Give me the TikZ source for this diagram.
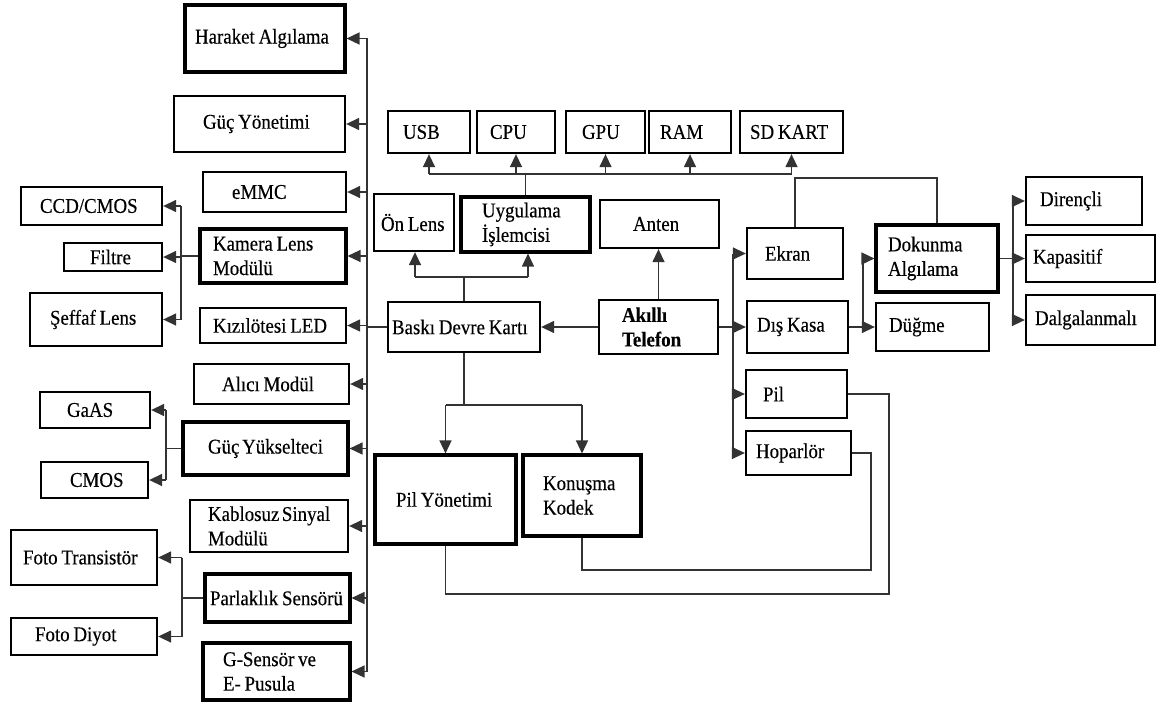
\documentclass[tikz,border=0pt]{standalone}
\usepackage{fontspec}
\setmainfont{Liberation Serif}[FakeStretch=0.9,WordSpace=0.8,FakeBold=0.3]
\usetikzlibrary{arrows.meta}
\newcommand{\lblfont}{\fontsize{21}{24.5}\selectfont\hyphenpenalty=10000\exhyphenpenalty=10000}
\begin{document}
\begin{tikzpicture}[x=1pt,y=-1pt,
  box/.style={draw=black,line width=2.3pt,inner sep=0pt,fill=white,font=\lblfont,align=flush left},
  heavy/.style={line width=3.1pt},
  wh/.style 2 args={minimum width=#1pt,minimum height=#2pt},
  tw/.style={text width=#1pt},
  ln/.style={draw=black!80,line width=1.4pt},
  arr/.style={ln,-{Triangle[length=13pt,width=12pt]}},
]
\useasboundingbox (0,0) rectangle (1161,709);

% ---- left column: modules on the board bus ----
\node[box,heavy,wh={160}{67},tw=140] (hareket) at (265,38.5) {Haraket~Algılama};
\node[box,wh={171}{56},tw=113] (gucyon) at (259.5,124) {Güç~Yönetimi};
\node[box,wh={143}{40},tw=85] (emmc) at (274.5,192) {eMMC};
\node[box,heavy,wh={146}{54},tw=120] (kamera) at (273,256) {Kamera~Lens\\Modülü};
\node[box,wh={146}{35},tw=120] (kizil) at (273,325.5) {Kızılötesi~LED};
\node[box,wh={155}{40},tw=99] (alici) at (271.5,384) {Alıcı~Modül};
\node[box,heavy,wh={165}{53},tw=115] (gucyuk) at (265.5,448.5) {Güç~Yükselteci};
\node[box,wh={158}{52},tw=122] (kablosuz) at (269,526) {Kablosuz~Sinyal\\Modülü};
\node[box,heavy,wh={145}{48},tw=135] (parlak) at (277.5,598) {Parlaklık~Sensörü};
\node[box,heavy,wh={147}{57},tw=107] (gsensor) at (276.5,671.5) {G-Sensör~ve\\E-~Pusula};

% ---- far left: sub-components ----
\node[box,wh={141}{38},tw=103] (ccd) at (91.5,206) {CCD/CMOS};
\node[box,wh={98}{28},tw=46] (filtre) at (113,257) {Filtre};
\node[box,wh={132}{53},tw=92] (seffaf) at (96,319.5) {Şeffaf~Lens};
\node[box,wh={110}{36},tw=56] (gaas) at (95,410) {GaAS};
\node[box,wh={107}{36},tw=49] (cmos) at (94.5,480) {CMOS};
\node[box,wh={146}{55},tw=122] (fototr) at (84,557.5) {Foto~Transistör};
\node[box,wh={146}{37},tw=98] (fotodi) at (84,636.5) {Foto~Diyot};

% ---- top row ----
\node[box,wh={82}{42},tw=52] (usb) at (429,132) {USB};
\node[box,wh={78}{42},tw=52] (cpu) at (516,132) {CPU};
\node[box,wh={79}{42},tw=47] (gpu) at (605.5,132) {GPU};
\node[box,wh={82}{42},tw=60] (ram) at (690,132) {RAM};
\node[box,wh={103}{42},tw=83] (sd) at (791.5,132) {SD~KART};

% ---- centre ----
\node[box,wh={80}{57},tw=66] (onlens) at (414,222.5) {Ön~Lens};
\node[box,heavy,wh={129}{55},tw=87] (uyg) at (525.5,224.5) {Uygulama\\İşlemcisi};
\node[box,wh={119}{48},tw=53] (anten) at (659.5,224) {Anten};
\node[box,wh={152}{50},tw=144] (baski) at (464,327) {Baskı~Devre~Kartı};
\node[box,wh={119}{54},tw=73,font=\lblfont\bfseries] (akilli) at (658.5,327) {Akıllı\\Telefon};

% ---- right side ----
\node[box,wh={96}{51},tw=60] (ekran) at (795,253.5) {Ekran};
\node[box,wh={101}{52},tw=81] (diskasa) at (797.5,327) {Dış~Kasa};
\node[box,wh={101}{48},tw=67] (pil) at (796.5,394) {Pil};
\node[box,wh={105}{44},tw=85] (hopar) at (798.5,453) {Hoparlör};
\node[box,heavy,wh={122}{67},tw=98] (dokunma) at (937,258.5) {Dokunma\\Algılama};
\node[box,wh={113}{48},tw=87] (dugme) at (932.5,327) {Düğme};
\node[box,wh={116}{48},tw=88] (direncli) at (1084,201) {Dirençli};
\node[box,wh={129}{47},tw=115] (kapas) at (1090.5,258.5) {Kapasitif};
\node[box,wh={129}{50},tw=111] (dalga) at (1090.5,320) {Dalgalanmalı};

% ---- bottom ----
\node[box,heavy,wh={141}{89},tw=99] (pilyon) at (445.5,499.5) {Pil~Yönetimi};
\node[box,heavy,wh={118}{81},tw=78] (konusma) at (582,495.5) {Konuşma\\Kodek};

% ---- bus lines ----
\coordinate (bus) at (367,0);
\coordinate (kv) at (181,0);
\coordinate (gv) at (166,0);
\coordinate (pv) at (182,0);
\coordinate (tb) at (0,174);
\coordinate (lb) at (0,277);
\coordinate (rv) at (733,0);
\coordinate (eh) at (0,178);
\coordinate (dv) at (863,0);
\coordinate (tv) at (1013,0);
\coordinate (bb) at (0,405);
\coordinate (p1) at (889,594);
\coordinate (h1) at (871,570);

% board to left modules
\draw[ln] (hareket.east -| bus) -- (gsensor.east -| bus);
\draw[ln] (baski.west) -- (baski.west -| bus);
\foreach \n in {hareket,gucyon,emmc,kamera,kizil,alici,gucyuk,kablosuz,parlak,gsensor}
  \draw[arr] (\n.east -| bus) -- (\n.east);

% camera lens parts
\draw[ln] (kamera.west) -- (kamera.west -| kv);
\draw[ln] (ccd.east -| kv) -- (seffaf.east -| kv);
\foreach \n in {ccd,filtre,seffaf}
  \draw[arr] (\n.east -| kv) -- (\n.east);

% power amplifier parts
\draw[ln] (gucyuk.west) -- (gucyuk.west -| gv);
\draw[ln] (gaas.east -| gv) -- (cmos.east -| gv);
\foreach \n in {gaas,cmos}
  \draw[arr] (\n.east -| gv) -- (\n.east);

% brightness sensor parts
\draw[ln] (parlak.west) -- (parlak.west -| pv);
\draw[ln] (fototr.east -| pv) -- (fotodi.east -| pv);
\foreach \n in {fototr,fotodi}
  \draw[arr] (\n.east -| pv) -- (\n.east);

% application processor to top row
\draw[ln] (usb.south |- tb) -- (sd.south |- tb);
\draw[ln] (uyg.north) -- (uyg.north |- tb);
\foreach \n in {usb,cpu,gpu,ram,sd}
  \draw[arr] (\n.south |- tb) -- (\n.south);

% board to front lens and processor
\draw[ln] (baski.north) -- (baski.north |- lb);
\draw[ln] ([xshift=1pt]onlens.south |- lb) -- ([xshift=2.5pt]uyg.south |- lb);
\draw[arr] ([xshift=1pt]onlens.south |- lb) -- ([xshift=1pt]onlens.south);
\draw[arr] ([xshift=2.5pt]uyg.south |- lb) -- ([xshift=2.5pt]uyg.south);

% smartphone
\draw[arr] (akilli.west) -- (baski.east);
\draw[arr] (akilli.north) -- (akilli.north |- anten.south);
\draw[ln] (akilli.east) -- (akilli.east -| rv);
\draw[ln] (ekran.west -| rv) -- (hopar.west -| rv);
\foreach \n in {ekran,diskasa,pil,hopar}
  \draw[arr] (\n.west -| rv) -- (\n.west);

% screen to touch sensing
\draw[ln] (ekran.north) |- (dokunma.north |- eh) -- (dokunma.north);

% case
\draw[ln] (diskasa.east) -- (diskasa.east -| dv);
\draw[ln] (dokunma.west -| dv) -- (dugme.west -| dv);
\foreach \n in {dokunma,dugme}
  \draw[arr] (\n.west -| dv) -- (\n.west);

% touch sensing types
\draw[ln] (dokunma.east) -- (dokunma.east -| tv);
\draw[ln] (direncli.west -| tv) -- (dalga.west -| tv);
\foreach \n in {direncli,kapas,dalga}
  \draw[arr] (\n.west -| tv) -- (\n.west);

% board to battery management and codec
\draw[ln] (baski.south) -- (baski.south |- bb);
\draw[ln] (pilyon.north |- bb) -- (konusma.north |- bb);
\foreach \n in {pilyon,konusma}
  \draw[arr] (\n.north |- bb) -- (\n.north);

% return lines
\draw[ln] (pil.east) -| (p1) -| (pilyon.south);
\draw[ln] (hopar.east) -| (h1) -| (konusma.south);
\end{tikzpicture}
\end{document}
